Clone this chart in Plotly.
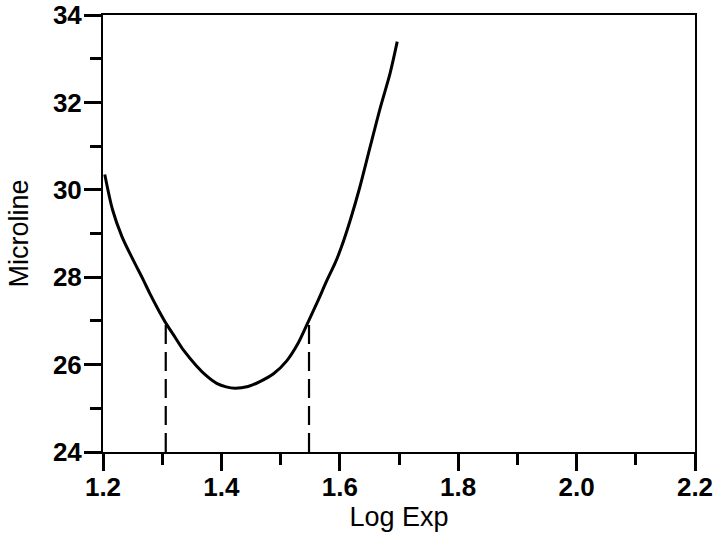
import plotly.graph_objects as go

# Curve data (Log Exp vs Microline)
log_exp = [1.203, 1.216, 1.232, 1.250, 1.268, 1.279, 1.2925, 1.3075, 1.322, 1.336, 1.358,
           1.375, 1.392, 1.408, 1.423, 1.445, 1.465, 1.488, 1.510, 1.530, 1.548,
           1.563, 1.578, 1.592, 1.603, 1.618, 1.634, 1.651, 1.668, 1.685, 1.697]
microline = [30.35, 29.55, 28.93, 28.42, 27.94, 27.63, 27.28, 26.92, 26.62, 26.33, 25.97,
             25.74, 25.57, 25.49, 25.46, 25.50, 25.61, 25.79, 26.08, 26.50, 27.02,
             27.46, 27.92, 28.32, 28.70, 29.32, 30.07, 30.97, 31.86, 32.67, 33.39]

# Dashed markers
dash_x = [1.306, 1.548]
dash_top = [27.0, 27.0]
y_floor = 24

x_ticks = [1.2, 1.4, 1.6, 1.8, 2.0, 2.2]
x_tick_labels = ["1.2", "1.4", "1.6", "1.8", "2.0", "2.2"]
y_ticks = [24, 26, 28, 30, 32, 34]

fig = go.Figure()
fig.add_trace(go.Scatter(x=log_exp, y=microline, mode="lines",
                         line=dict(color="black", width=3, shape="spline", smoothing=0.8),
                         showlegend=False, hoverinfo="skip"))
for dx, dt in zip(dash_x, dash_top):
    fig.add_trace(go.Scatter(x=[dx, dx], y=[y_floor, dt], mode="lines",
                             line=dict(color="black", width=2.2, dash="19px,8px"),
                             showlegend=False, hoverinfo="skip"))

tick_font = dict(family="Liberation Sans, Arial, sans-serif", size=26, color="black")
title_font = dict(family="Liberation Sans, Arial, sans-serif", size=27, color="black")

fig.update_layout(
    width=718, height=541,
    margin=dict(l=103, r=23, t=15, b=89),
    paper_bgcolor="white", plot_bgcolor="white",
    font=tick_font,
)
fig.update_xaxes(
    range=[1.2, 2.2], tickmode="array", tickvals=x_ticks,
    ticktext=["<b>%s</b>" % t for t in x_tick_labels],
    showline=True, linecolor="black", linewidth=2, mirror=True,
    ticks="outside", ticklen=17, tickwidth=2.5, tickcolor="black",
    minor=dict(dtick=0.1, ticks="outside", ticklen=11, tickwidth=2.5, tickcolor="black"),
    showgrid=False, zeroline=False, automargin=False,
    ticklabelstandoff=-6,
    title=dict(text="Log Exp", font=title_font, standoff=6),
    tickfont=tick_font,
)
fig.update_yaxes(
    range=[24, 34], tickmode="array", tickvals=y_ticks,
    ticktext=["<b>%d</b>" % t for t in y_ticks],
    showline=True, linecolor="black", linewidth=2, mirror=True,
    ticks="outside", ticklen=17, tickwidth=2.5, tickcolor="black",
    minor=dict(dtick=1, ticks="outside", ticklen=11, tickwidth=2.5, tickcolor="black"),
    showgrid=False, zeroline=False, automargin=False,
    ticklabelstandoff=-3,
    title=dict(text="Microline", font=title_font, standoff=16),
    tickfont=tick_font,
)

fig.write_html("out.html")
